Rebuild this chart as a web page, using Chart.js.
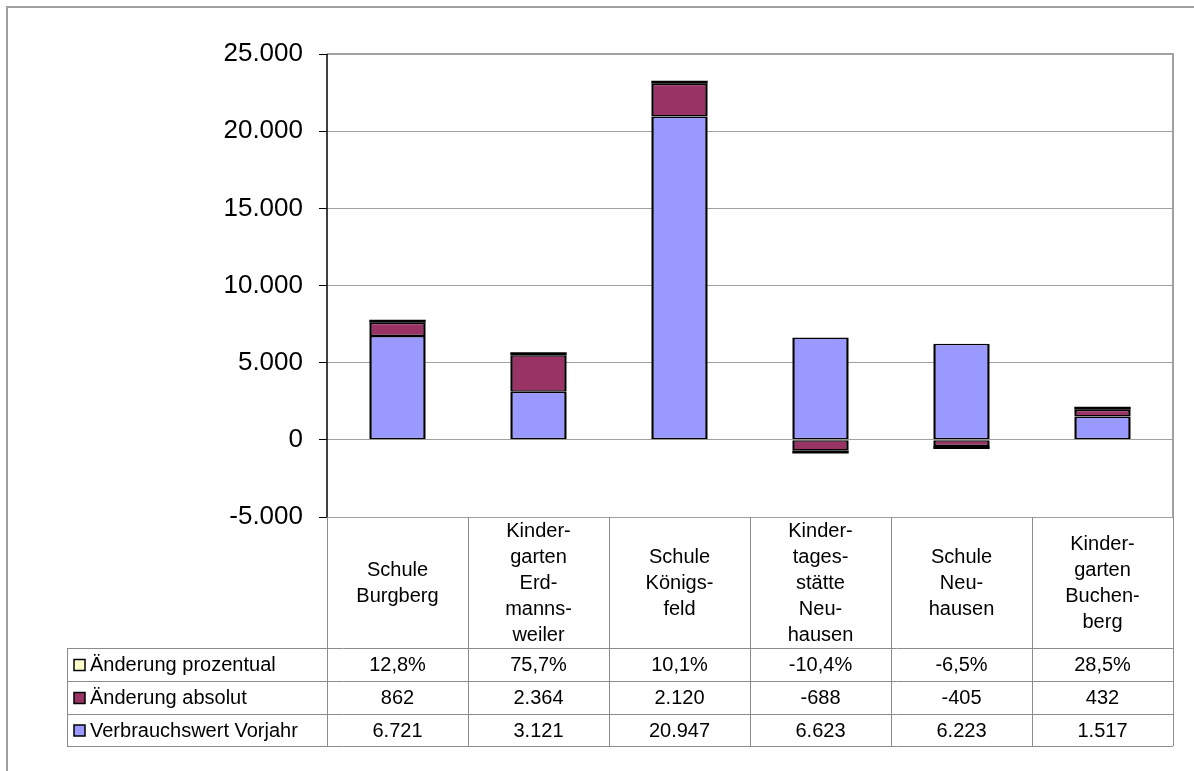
<!DOCTYPE html>
<html>
<head>
<meta charset="utf-8">
<script src="https://cdn.jsdelivr.net/npm/chart.js@4/dist/chart.umd.min.js"></script>
<style>
  body { margin: 0; background: #fff; }
</style>
</head>
<body>
<canvas id="myChart" width="1194" height="771"></canvas>
<script>
// categories (line breaks as in the table header cells)
let categories = [
  ["Schule", "Burgberg"],
  ["Kinder-", "garten", "Erd-", "manns-", "weiler"],
  ["Schule", "Königs-", "feld"],
  ["Kinder-", "tages-", "stätte", "Neu-", "hausen"],
  ["Schule", "Neu-", "hausen"],
  ["Kinder-", "garten", "Buchen-", "berg"]
];
let vorjahr = [6721, 3121, 20947, 6623, 6223, 1517];
let absolut = [862, 2364, 2120, -688, -405, 432];
let prozent = [12.8, 75.7, 10.1, -10.4, -6.5, 28.5];
let yTicks = [-5000, 0, 5000, 10000, 15000, 20000, 25000];

let seriesNames = ["Änderung prozentual", "Änderung absolut", "Verbrauchswert Vorjahr"];
let seriesColors = ["#FFFFCC", "#993366", "#9999FF"];

const FONT = "'Liberation Sans', Arial, sans-serif";

function fmtNum(v) {
  let s = Math.abs(v).toString().replace(/\B(?=(\d{3})+(?!\d))/g, ".");
  return (v < 0 ? "-" : "") + s;
}
function fmtPct(v) {
  return v.toFixed(1).replace(".", ",") + "%";
}

// draws frame + data table under the plot
const tablePlugin = {
  id: 'dataTable',
  afterDraw(chart) {
    const ctx = chart.ctx;
    const area = chart.chartArea;
    const n = categories.length;
    const colW = (area.right - area.left) / n;
    const legendLeft = 67;
    const rowTops = [648, 681, 714, 746];
    const tableTop = area.bottom;

    ctx.save();
    // outer frame
    ctx.strokeStyle = "#a0a0a0";
    ctx.lineWidth = 2;
    ctx.beginPath();
    ctx.moveTo(7, 771);
    ctx.lineTo(7, 7);
    ctx.lineTo(1194, 7);
    ctx.stroke();

    // table grid
    ctx.strokeStyle = "#8c8c8c";
    ctx.lineWidth = 1;
    ctx.beginPath();
    for (let i = 0; i <= n; i++) {
      let x = Math.round(area.left + i * colW) + 0.5;
      ctx.moveTo(x, tableTop);
      ctx.lineTo(x, rowTops[3]);
    }
    ctx.moveTo(legendLeft + 0.5, rowTops[0]);
    ctx.lineTo(legendLeft + 0.5, rowTops[3]);
    for (let y of rowTops) {
      ctx.moveTo(legendLeft, y + 0.5);
      ctx.lineTo(area.right, y + 0.5);
    }
    ctx.stroke();

    // category headers
    ctx.fillStyle = "#000";
    ctx.font = "20px " + FONT;
    ctx.textAlign = "center";
    ctx.textBaseline = "middle";
    const lineH = 26;
    const headMid = (tableTop + rowTops[0]) / 2 + 1;
    categories.forEach((lines, i) => {
      let cx = area.left + (i + 0.5) * colW;
      let y0 = headMid - (lines.length - 1) * lineH / 2;
      lines.forEach((t, j) => ctx.fillText(t, cx, y0 + j * lineH));
    });

    // rows
    const rows = [
      prozent.map(fmtPct),
      absolut.map(fmtNum),
      vorjahr.map(fmtNum)
    ];
    rows.forEach((vals, r) => {
      let cy = (rowTops[r] + rowTops[r + 1]) / 2 + 1;
      ctx.textAlign = "center";
      vals.forEach((t, i) => ctx.fillText(t, area.left + (i + 0.5) * colW, cy));
      // legend key
      ctx.fillStyle = seriesColors[r];
      ctx.fillRect(74, cy - 6, 11, 11);
      ctx.strokeStyle = "#000";
      ctx.lineWidth = 1.5;
      ctx.strokeRect(74, cy - 6, 11, 11);
      ctx.fillStyle = "#000";
      ctx.textAlign = "left";
      ctx.fillText(seriesNames[r], 90, cy);
    });

    // plot border
    ctx.strokeStyle = "#a0a0a0";
    ctx.lineWidth = 2;
    ctx.beginPath();
    ctx.moveTo(area.left, area.top);
    ctx.lineTo(area.right, area.top);
    ctx.lineTo(area.right, area.bottom);
    ctx.stroke();
    ctx.strokeStyle = "#000";
    ctx.lineWidth = 1.5;
    ctx.beginPath();
    ctx.moveTo(area.left, area.top);
    ctx.lineTo(area.left, area.bottom);
    ctx.stroke();
    ctx.restore();
  }
};

const labels = categories.map(c => c.join(""));
const segBorder = { top: 1.5, bottom: 1.5, left: 2.5, right: 2.5 };

var ctx = document.getElementById('myChart').getContext('2d');
var myChart = new Chart(ctx, {
  type: 'bar',
  data: {
    labels: labels,
    datasets: [
      {
        label: seriesNames[2],
        data: vorjahr,
        backgroundColor: seriesColors[2],
        borderColor: '#000',
        borderWidth: segBorder
      },
      {
        label: seriesNames[1],
        data: absolut,
        backgroundColor: seriesColors[1],
        borderColor: '#000',
        borderWidth: segBorder
      },
      {
        // tiny values: only a dark sliver on top of each bar
        label: seriesNames[0],
        data: prozent,
        backgroundColor: '#000',
        borderWidth: 0,
        minBarLength: 3
      }
    ]
  },
  plugins: [tablePlugin],
  options: {
    responsive: false,
    devicePixelRatio: 1,
    animation: false,
    layout: {
      padding: { left: 0, right: 21, top: 54, bottom: 254 }
    },
    datasets: {
      bar: {
        barPercentage: 0.4,
        categoryPercentage: 1,
        borderSkipped: false,
        inflateAmount: 0
      }
    },
    plugins: {
      legend: { display: false },
      tooltip: { enabled: false }
    },
    scales: {
      x: {
        stacked: true,
        display: false
      },
      y: {
        stacked: true,
        min: -5000,
        max: 25000,
        afterFit: function (scale) { scale.width = 327; },
        afterBuildTicks: function (scale) {
          scale.ticks = yTicks.map(v => ({ value: v }));
        },
        border: { display: false },
        grid: {
          color: '#a0a0a0',
          lineWidth: 1,
          tickLength: 8,
          tickColor: '#000'
        },
        ticks: {
          padding: 16,
          color: '#000',
          font: { family: FONT, size: 26 },
          callback: function (v) { return fmtNum(v); }
        }
      }
    }
  }
});
</script>
</body>
</html>
